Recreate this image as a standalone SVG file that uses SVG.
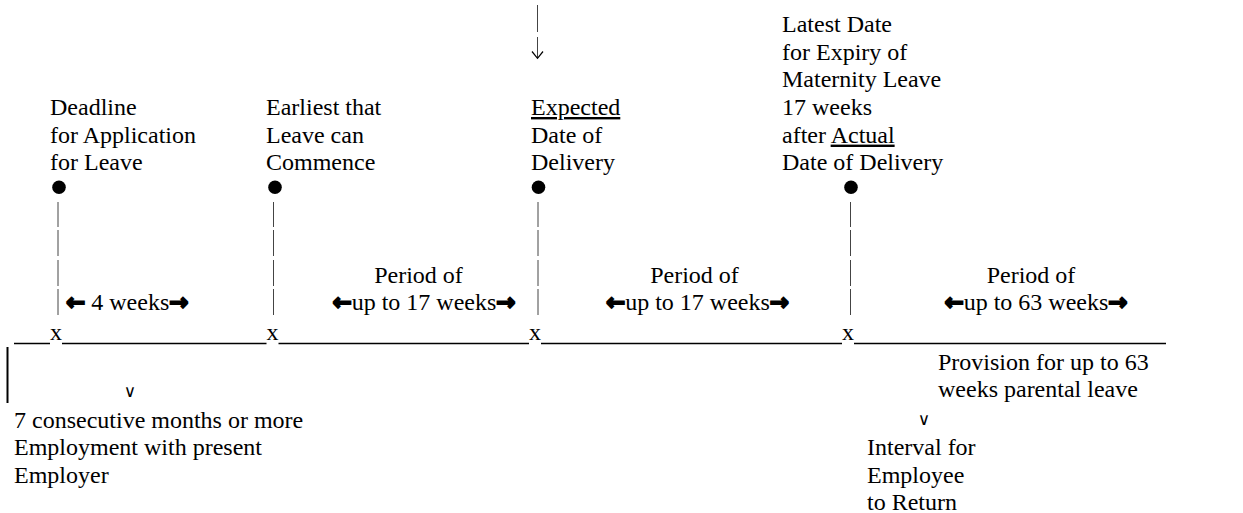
<svg xmlns="http://www.w3.org/2000/svg" width="1243" height="513" viewBox="0 0 1243 513">
<style>
text{font-family:"Liberation Serif","Times New Roman",serif;font-size:24px;fill:#000}
.ar{font-family:"DejaVu Sans",sans-serif;font-weight:bold;font-size:23px;stroke:#000;stroke-width:1.8;stroke-linejoin:miter}
.u{text-decoration:underline}
.bar{stroke:#444;stroke-width:1;fill:none}
.dot{fill:#000}
.v{font-family:"DejaVu Sans",sans-serif;font-size:17px}
.mid{text-anchor:middle}
</style>
<rect width="1243" height="513" fill="#fff"/>
<g id="connectors">
<path class="bar" d="M537.5 5V32M537.5 37V58"/>
<path d="M532 51.5L537.5 58.3L543 51.5" fill="none" stroke="#000" stroke-width="1.2"/>
<path class="bar" d="M58 202V227M58 230V256M58 260V286M58 289V315"/>
<path class="bar" d="M273.5 202V227M273.5 230V256M273.5 260V286M273.5 289V315"/>
<path class="bar" d="M538 202V227M538 230V256M538 260V286M538 289V315"/>
<path class="bar" d="M850.5 202V227M850.5 230V256M850.5 260V286M850.5 289V315"/>
<path d="M14 343.5H50M62 343.5H266.5M278.5 343.5H529M541 343.5H842M854 343.5H1166" stroke="#000" stroke-width="1.7" fill="none"/>
<path d="M7.5 347V403" stroke="#000" stroke-width="2"/>
</g>
<g id="node-deadline">
<text x="50" y="115">Deadline</text>
<text x="50" y="142.6">for Application</text>
<text x="50" y="170.2">for Leave</text>
<circle class="dot" cx="59" cy="187.3" r="6.8"/>
<text x="56" y="340" class="mid">x</text>
</g>
<g id="node-earliest">
<text x="266" y="115">Earliest that</text>
<text x="266" y="142.6">Leave can</text>
<text x="266" y="170.2">Commence</text>
<circle class="dot" cx="275" cy="187.3" r="6.8"/>
<text x="272.5" y="340" class="mid">x</text>
</g>
<g id="node-expected">
<text x="531" y="115"><tspan class="u">Expected</tspan></text>
<text x="531" y="142.6">Date of</text>
<text x="531" y="170.2">Delivery</text>
<circle class="dot" cx="538.5" cy="187.3" r="6.8"/>
<text x="535" y="340" class="mid">x</text>
</g>
<g id="node-latest">
<text x="782" y="32.2">Latest Date</text>
<text x="782" y="59.8">for Expiry of</text>
<text x="782" y="87.4">Maternity Leave</text>
<text x="782" y="115">17 weeks</text>
<text x="782" y="142.6">after <tspan class="u">Actual</tspan></text>
<text x="782" y="170.2">Date of Delivery</text>
<circle class="dot" cx="851" cy="187.3" r="6.8"/>
<text x="848" y="340" class="mid">x</text>
</g>
<g id="period-4">
<text x="66" y="310"><tspan class="ar">←</tspan> 4 weeks<tspan class="ar">→</tspan></text>
</g>
<g id="period-17a">
<text x="418.5" y="283" class="mid">Period of</text>
<text x="424" y="310" class="mid"><tspan class="ar">←</tspan>up to 17 weeks<tspan class="ar">→</tspan></text>
</g>
<g id="period-17b">
<text x="694.5" y="283" class="mid">Period of</text>
<text x="697.5" y="310" class="mid"><tspan class="ar">←</tspan>up to 17 weeks<tspan class="ar">→</tspan></text>
</g>
<g id="period-63">
<text x="1031" y="283" class="mid">Period of</text>
<text x="1036" y="310" class="mid"><tspan class="ar">←</tspan>up to 63 weeks<tspan class="ar">→</tspan></text>
</g>
<g id="node-employment">
<text x="130" y="397" class="v mid">∨</text>
<text x="14" y="427.5">7 consecutive months or more</text>
<text x="14" y="455">Employment with present</text>
<text x="14" y="482.6">Employer</text>
</g>
<g id="node-provision">
<text x="938" y="369.5">Provision for up to 63</text>
<text x="938" y="397">weeks parental leave</text>
</g>
<g id="node-return">
<text x="924" y="425" class="v mid">∨</text>
<text x="867" y="455">Interval for</text>
<text x="867" y="482.6">Employee</text>
<text x="867" y="509.5">to Return</text>
</g>
</svg>
